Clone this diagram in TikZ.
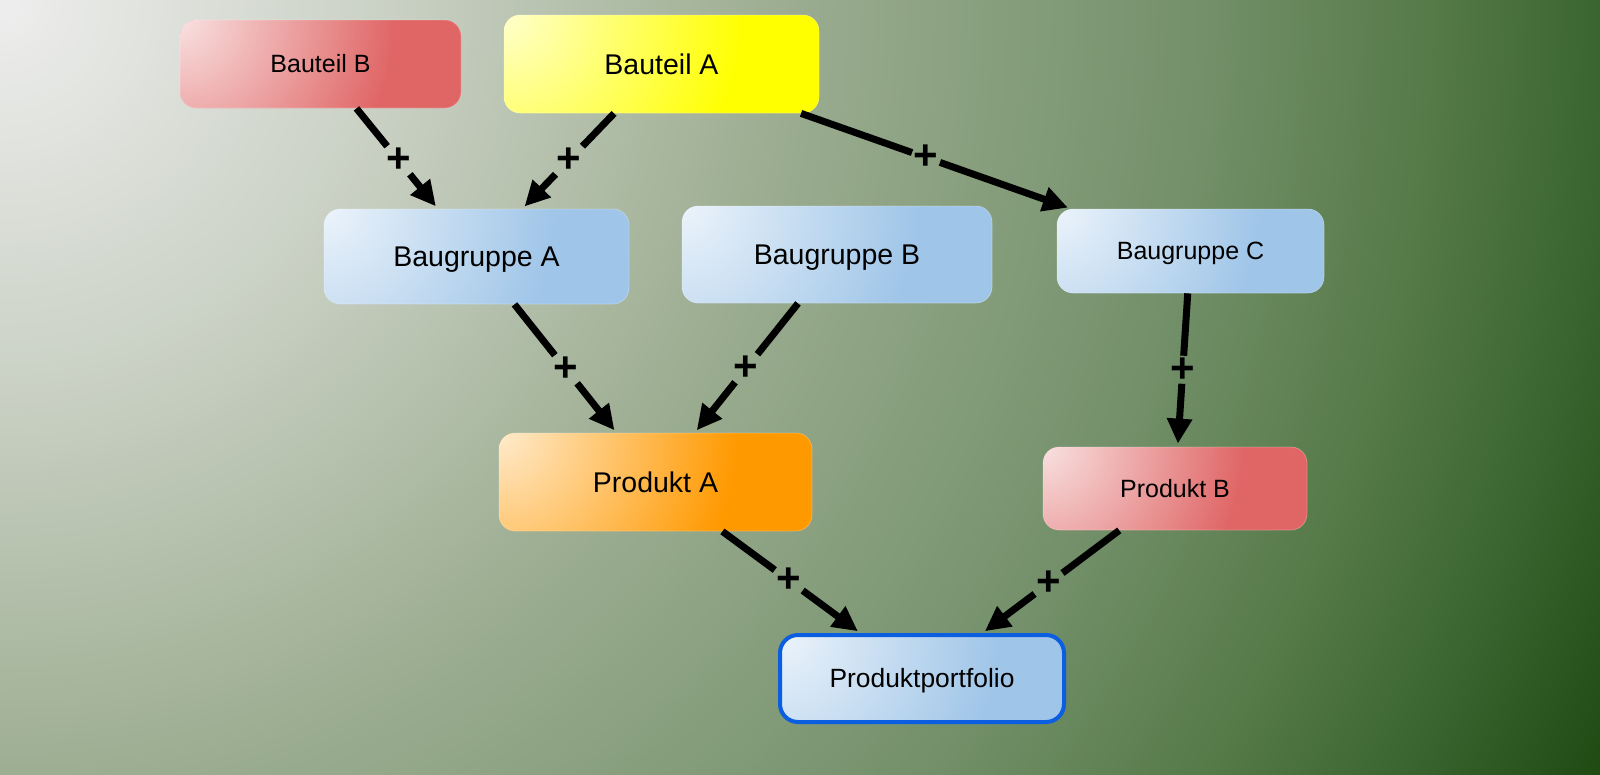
\documentclass[tikz,border=0pt]{standalone}
\usepackage{fontspec}
\setmainfont{Liberation Sans}
\usetikzlibrary{arrows.meta,calc}

\definecolor{bg0}{HTML}{EEEEEE}
\definecolor{bg1}{HTML}{C9D0C3}
\definecolor{bg2}{HTML}{9CAD91}
\definecolor{bg3}{HTML}{73906A}
\definecolor{bg4}{HTML}{567A48}
\definecolor{bg5}{HTML}{3A6530}
\definecolor{bg6}{HTML}{1F4A12}
\definecolor{redS}{HTML}{E06666}
\definecolor{yelS}{HTML}{FFFF00}
\definecolor{bluS}{HTML}{9FC5E8}
\definecolor{orgS}{HTML}{FF9900}
\definecolor{ppBorder}{HTML}{0B5EE0}
\colorlet{redL}{redS!20!white}
\colorlet{yelL}{yelS!20!white}
\colorlet{bluL}{bluS!20!white}
\colorlet{orgL}{orgS!20!white}

\pgfdeclareradialshading{bgshade}{\pgfpoint{0bp}{0bp}}{color(0bp)=(bg0); color(5.6bp)=(bg1); color(11bp)=(bg2); color(16.9bp)=(bg3); color(20.1bp)=(bg4); color(22.5bp)=(bg5); color(25bp)=(bg6); color(50bp)=(bg6)}
\pgfdeclareradialshading{redshade}{\pgfpoint{0bp}{0bp}}{color(0bp)=(redL); color(12.5bp)=(redS); color(50bp)=(redS)}
\pgfdeclareradialshading{yelshade}{\pgfpoint{0bp}{0bp}}{color(0bp)=(yelL); color(12.5bp)=(yelS); color(50bp)=(yelS)}
\pgfdeclareradialshading{blushade}{\pgfpoint{0bp}{0bp}}{color(0bp)=(bluL); color(12.5bp)=(bluS); color(50bp)=(bluS)}
\pgfdeclareradialshading{orgshade}{\pgfpoint{0bp}{0bp}}{color(0bp)=(orgL); color(12.5bp)=(orgS); color(50bp)=(orgS)}

\begin{document}
\begin{tikzpicture}[x=1pt,y=-1pt,
  box/.style={rounded corners=16pt, inner sep=0pt, draw=white, draw opacity=0.25, line width=0.8pt, text=black},
  grad/.style args={#1 at #2}{path picture={\shade[shading=#1, rounded corners=0pt] ([shift={(-#2,-#2)}]path picture bounding box.north west) rectangle ([shift={(#2,#2)}]path picture bounding box.north west);}},
  bigtxt/.style={font=\fontsize{28.5}{30}\selectfont, text height=24pt, text depth=3.6pt},
  smalltxt/.style={font=\fontsize{25}{27}\selectfont, text height=21.5pt, text depth=3.6pt},
  pptxt/.style={font=\fontsize{26.4}{28}\selectfont, text height=22.5pt, text depth=3.6pt},
  conn/.style={line width=7pt, draw=black},
  arr/.style={conn, -{Triangle[length=25pt,width=24pt]}, shorten >=3pt},
  plus/.style={font=\fontsize{42}{42}\selectfont\bfseries, inner sep=1.5pt, text=black}
]
\useasboundingbox (0,0) rectangle (1600,774);
\begin{scope}
  \clip (0,0) rectangle (1600,774);
  \shade[shading=bgshade] (-1778,-1778) rectangle (1778,1778);
\end{scope}

% nodes
\node[box, fill=redS, grad=redshade at 428, minimum width=281pt, minimum height=88pt, smalltxt] (bB) at (320.5,64) {Bauteil B};
\node[box, fill=yelS, grad=yelshade at 480, minimum width=315pt, minimum height=98pt, bigtxt] (bA) at (661.5,64) {Bauteil A};
\node[box, fill=bluS, grad=blushade at 464, minimum width=305pt, minimum height=95pt, bigtxt] (gA) at (476.5,256.5) {Baugruppe A};
\node[box, fill=bluS, grad=blushade at 472, minimum width=310pt, minimum height=97pt, bigtxt] (gB) at (837,254.5) {Baugruppe B};
\node[box, fill=bluS, grad=blushade at 406, minimum width=267pt, minimum height=84pt, smalltxt] (gC) at (1190.5,251) {Baugruppe C};
\node[box, fill=orgS, grad=orgshade at 476, minimum width=313pt, minimum height=98pt, bigtxt] (pA) at (655.5,482) {Produkt A};
\node[box, fill=redS, grad=redshade at 400, minimum width=264pt, minimum height=83pt, smalltxt] (pB) at (1175,488.5) {Produkt B};
\node[box, fill=bluS, grad=blushade at 438, draw=ppBorder, draw opacity=1, line width=4pt, rounded corners=18pt, minimum width=284pt, minimum height=87pt, pptxt] (pp) at (922,678.5) {Produktportfolio};

% plus labels
\node[plus] (l1) at ($(bB)!0.5!(gA)$) {+};
\node[plus] (l2) at ($(bA)!0.5!(gA)$) {+};
\node[plus] (l3) at ($(bA)!0.5!(gC)$) {+};
\node[plus] (l4) at ($(gA)!0.5!(pA)$) {+};
\node[plus] (l5) at ($(gB)!0.5!(pA)$) {+};
\node[plus] (l6) at ($(gC)!0.5!(pB)$) {+};
\node[plus] (l7) at ($(pA)!0.5!(pp)$) {+};
\node[plus] (l8) at ($(pB)!0.5!(pp)$) {+};

% connectors
\draw[conn] (bB) -- (l1); \draw[arr] (l1) -- (gA);
\draw[conn] (bA) -- (l2); \draw[arr] (l2) -- (gA);
\draw[conn] (bA) -- (l3); \draw[arr] (l3) -- (gC);
\draw[conn] (gA) -- (l4); \draw[arr] (l4) -- (pA);
\draw[conn] (gB) -- (l5); \draw[arr] (l5) -- (pA);
\draw[conn] (gC) -- (l6); \draw[arr] (l6) -- (pB);
\draw[conn] (pA) -- (l7); \draw[arr] (l7) -- (pp);
\draw[conn] (pB) -- (l8); \draw[arr] (l8) -- (pp);
\end{tikzpicture}
\end{document}
